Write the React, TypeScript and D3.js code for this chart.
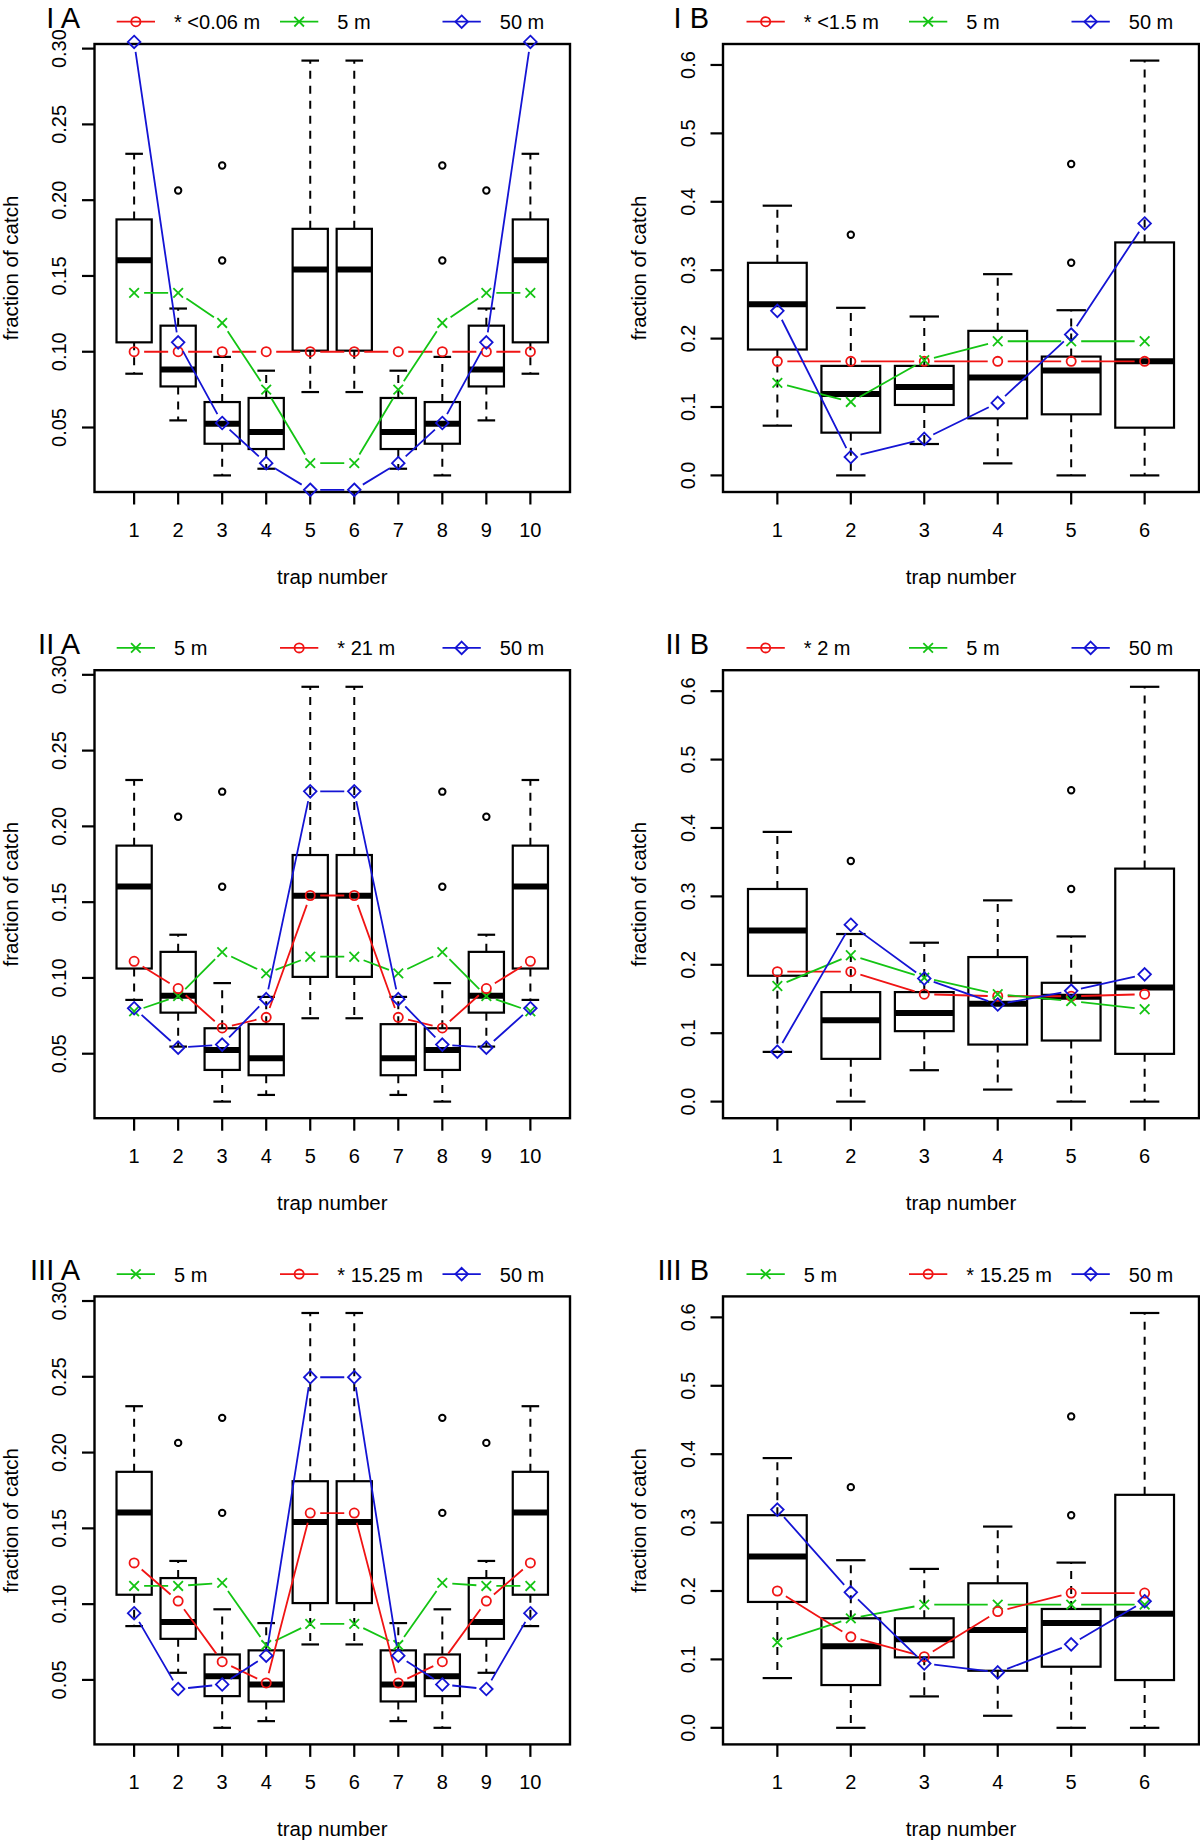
import * as d3 from "d3";

// trap numbers
const trapsA = [1, 2, 3, 4, 5, 6, 7, 8, 9, 10];
const trapsB = [1, 2, 3, 4, 5, 6];

// box stats: [lower whisker, q1, median, q3, upper whisker]
const boxA = [
  [0.0855, 0.1062, 0.1604, 0.1873, 0.2306],
  [0.0547, 0.0771, 0.0882, 0.1172, 0.1285],
  [0.0184, 0.0393, 0.0525, 0.0668, 0.0966],
  [0.0228, 0.0358, 0.047, 0.0695, 0.0875],
  [0.0734, 0.1007, 0.1542, 0.1811, 0.2921],
  [0.0734, 0.1007, 0.1542, 0.1811, 0.2921],
  [0.0228, 0.0358, 0.047, 0.0695, 0.0875],
  [0.0184, 0.0393, 0.0525, 0.0668, 0.0966],
  [0.0547, 0.0771, 0.0882, 0.1172, 0.1285],
  [0.0855, 0.1062, 0.1604, 0.1873, 0.2306],
];
const outliersA = [[], [0.2064], [0.2229, 0.1602], [], [], [], [], [0.2229, 0.1602], [0.2064], []];

const boxB = [
  [0.0727, 0.184, 0.2503, 0.3108, 0.3943],
  [0.0, 0.0625, 0.1191, 0.1601, 0.245],
  [0.0459, 0.103, 0.1294, 0.1601, 0.2323],
  [0.0176, 0.0834, 0.143, 0.2113, 0.2942],
  [0.0, 0.0893, 0.1532, 0.1737, 0.2415],
  [0.0, 0.0698, 0.1669, 0.3406, 0.6064],
];
const outliersB = [[], [0.3518], [], [], [0.4552, 0.3108], []];

const ticksA = [0.05, 0.1, 0.15, 0.2, 0.25, 0.3];
const ticksB = [0.0, 0.1, 0.2, 0.3, 0.4, 0.5, 0.6];

// series per panel
const iaRed = [0.1, 0.1, 0.1, 0.1, 0.1, 0.1, 0.1, 0.1, 0.1, 0.1];
const iaGreen = [0.1388, 0.1388, 0.119, 0.075, 0.0265, 0.0265, 0.075, 0.119, 0.1388, 0.1388];
const iaBlue = [0.3044, 0.1062, 0.053, 0.0265, 0.0089, 0.0089, 0.0265, 0.053, 0.1062, 0.3044];

const ibRed = [0.1667, 0.1667, 0.1667, 0.1667, 0.1667, 0.1667];
const ibGreen = [0.1352, 0.1074, 0.1683, 0.1961, 0.1961, 0.1961];
const ibBlue = [0.2406, 0.0269, 0.0533, 0.106, 0.2059, 0.3683];

const iiaGreen = [0.078, 0.088, 0.117, 0.103, 0.114, 0.114, 0.103, 0.117, 0.088, 0.078];
const iiaRed = [0.111, 0.093, 0.067, 0.074, 0.1544, 0.1544, 0.074, 0.067, 0.093, 0.111];
const iiaBlue = [0.08, 0.054, 0.056, 0.086, 0.2231, 0.2231, 0.086, 0.056, 0.054, 0.08];

const iibRed = [0.19, 0.19, 0.157, 0.154, 0.154, 0.157];
const iibGreen = [0.169, 0.214, 0.181, 0.157, 0.147, 0.135];
const iibBlue = [0.073, 0.2586, 0.18, 0.142, 0.162, 0.186];

const iiiaGreen = [0.112, 0.112, 0.114, 0.073, 0.087, 0.087, 0.073, 0.114, 0.112, 0.112];
const iiiaRed = [0.1272, 0.102, 0.062, 0.048, 0.1601, 0.1601, 0.048, 0.062, 0.102, 0.1272];
const iiiaBlue = [0.094, 0.044, 0.047, 0.066, 0.2497, 0.2497, 0.066, 0.047, 0.044, 0.094];

const iiibGreen = [0.125, 0.16, 0.18, 0.18, 0.18, 0.18];
const iiibRed = [0.2, 0.133, 0.104, 0.17, 0.197, 0.197];
const iiibBlue = [0.319, 0.198, 0.094, 0.081, 0.122, 0.185];

const RED = "#f01414";
const GREEN = "#14c414";
const BLUE = "#1414d4";
const FONT = "'Liberation Sans', Arial, Helvetica, sans-serif";

type Series = { label: string; color: string; shape: "circle" | "cross" | "diamond"; values: number[] };

const panels = [
  { title: "I A", row: 0, col: 0, series: [
    { label: "* <0.06 m", color: RED, shape: "circle", values: iaRed },
    { label: "5 m", color: GREEN, shape: "cross", values: iaGreen },
    { label: "50 m", color: BLUE, shape: "diamond", values: iaBlue },
  ] },
  { title: "I B", row: 0, col: 1, series: [
    { label: "* <1.5 m", color: RED, shape: "circle", values: ibRed },
    { label: "5 m", color: GREEN, shape: "cross", values: ibGreen },
    { label: "50 m", color: BLUE, shape: "diamond", values: ibBlue },
  ] },
  { title: "II A", row: 1, col: 0, series: [
    { label: "5 m", color: GREEN, shape: "cross", values: iiaGreen },
    { label: "* 21 m", color: RED, shape: "circle", values: iiaRed },
    { label: "50 m", color: BLUE, shape: "diamond", values: iiaBlue },
  ] },
  { title: "II B", row: 1, col: 1, series: [
    { label: "* 2 m", color: RED, shape: "circle", values: iibRed },
    { label: "5 m", color: GREEN, shape: "cross", values: iibGreen },
    { label: "50 m", color: BLUE, shape: "diamond", values: iibBlue },
  ] },
  { title: "III A", row: 2, col: 0, series: [
    { label: "5 m", color: GREEN, shape: "cross", values: iiiaGreen },
    { label: "* 15.25 m", color: RED, shape: "circle", values: iiiaRed },
    { label: "50 m", color: BLUE, shape: "diamond", values: iiiaBlue },
  ] },
  { title: "III B", row: 2, col: 1, series: [
    { label: "5 m", color: GREEN, shape: "cross", values: iiibGreen },
    { label: "* 15.25 m", color: RED, shape: "circle", values: iiibRed },
    { label: "50 m", color: BLUE, shape: "diamond", values: iiibBlue },
  ] },
] as { title: string; row: number; col: number; series: Series[] }[];

// layout of the two columns
const cols = [
  { x0: 94.5, x1: 570, titleX: 80, yLabX: 66, yTitleX: 17.5, legendX: [116.7, 280, 442.5] },
  { x0: 723, x1: 1199, titleX: 709, yLabX: 695, yTitleX: 646, legendX: [746.5, 909, 1071.5] },
];
const ROW_H = 626.2;
const TOP = 44;
const BOTTOM = 492;
const GAP = 10;

function Marker({ shape, x, y, color }: { shape: string; x: number; y: number; color: string }) {
  if (shape === "circle") return <circle cx={x} cy={y} r={4.6} fill="none" stroke={color} strokeWidth={1.8} />;
  if (shape === "cross") {
    const s = 4.8;
    return (
      <path d={`M${x - s},${y - s}L${x + s},${y + s}M${x - s},${y + s}L${x + s},${y - s}`} stroke={color} strokeWidth={1.8} />
    );
  }
  const s = 6.3;
  return <path d={`M${x},${y - s}L${x + s},${y}L${x},${y + s}L${x - s},${y}Z`} fill="none" stroke={color} strokeWidth={1.8} />;
}

function Panel({ p }: { p: { title: string; row: number; col: number; series: Series[] } }) {
  const c = cols[p.col];
  const isA = p.col === 0;
  const traps = isA ? trapsA : trapsB;
  const boxes = isA ? boxA : boxB;
  const outliers = isA ? outliersA : outliersB;
  const ticks = isA ? ticksA : ticksB;
  const dy = p.row * ROW_H;

  const lo = d3.min(boxes, (b) => b[0])!;
  const hi = Math.max(d3.max(boxes, (b) => b[4])!, d3.max(outliers.flat())!);
  const ext = (hi - lo) * 0.04;
  const y = d3.scaleLinear().domain([lo - ext, hi + ext]).range([BOTTOM, TOP]);
  const n = traps.length;
  const x = d3.scaleLinear().domain([0.5 - n * 0.04, n + 0.5 + n * 0.04]).range([c.x0, c.x1]);
  const bw = (x(1) - x(0)) * 0.8;
  const sw = bw * 0.5;
  const tickFmt = isA ? d3.format(".2f") : d3.format(".1f");

  return (
    <g transform={`translate(0,${dy})`} fontFamily={FONT}>
      <text x={c.titleX} y={27.5} fontSize={29} textAnchor="end">{p.title}</text>
      {p.series.map((s, i) => {
        const lx = c.legendX[i];
        return (
          <g key={"lg" + i}>
            <line x1={lx} x2={lx + 38.3} y1={21.7} y2={21.7} stroke={s.color} strokeWidth={1.8} />
            <Marker shape={s.shape} x={lx + 19.15} y={21.7} color={s.color} />
            <text x={lx + 57.3} y={29.3} fontSize={20}>{s.label}</text>
          </g>
        );
      })}
      {/* boxes */}
      {boxes.map((b, i) => {
        const cx = x(traps[i]);
        return (
          <g key={"bx" + i} stroke="#000" fill="none">
            <line x1={cx} x2={cx} y1={y(b[3])} y2={y(b[4])} strokeWidth={2} strokeDasharray="8 7" />
            <line x1={cx} x2={cx} y1={y(b[1])} y2={y(b[0])} strokeWidth={2} strokeDasharray="8 7" />
            <line x1={cx - sw / 2} x2={cx + sw / 2} y1={y(b[4])} y2={y(b[4])} strokeWidth={2.2} />
            <line x1={cx - sw / 2} x2={cx + sw / 2} y1={y(b[0])} y2={y(b[0])} strokeWidth={2.2} />
            <rect x={cx - bw / 2} y={y(b[3])} width={bw} height={y(b[1]) - y(b[3])} fill="#fff" strokeWidth={2.2} />
            <line x1={cx - bw / 2} x2={cx + bw / 2} y1={y(b[2])} y2={y(b[2])} strokeWidth={6} />
            {outliers[i].map((o, j) => (
              <circle key={j} cx={cx} cy={y(o)} r={3.2} strokeWidth={2} />
            ))}
          </g>
        );
      })}
      {/* frame */}
      <rect x={c.x0} y={TOP} width={c.x1 - c.x0} height={BOTTOM - TOP} fill="none" stroke="#000" strokeWidth={2.4} />
      {/* y axis */}
      {ticks.map((t) => (
        <g key={"yt" + t}>
          <line x1={c.x0} x2={c.x0 - 12.5} y1={y(t)} y2={y(t)} stroke="#000" strokeWidth={2.2} />
          <text transform={`translate(${c.yLabX},${y(t)}) rotate(-90)`} textAnchor="middle" fontSize={20}>
            {tickFmt(t)}
          </text>
        </g>
      ))}
      <text transform={`translate(${c.yTitleX},${(TOP + BOTTOM) / 2}) rotate(-90)`} textAnchor="middle" fontSize={20.5}>
        fraction of catch
      </text>
      {/* x axis */}
      {traps.map((t) => (
        <g key={"xt" + t}>
          <line x1={x(t)} x2={x(t)} y1={BOTTOM} y2={BOTTOM + 12.5} stroke="#000" strokeWidth={2.2} />
          <text x={x(t)} y={536.7} textAnchor="middle" fontSize={20}>{t}</text>
        </g>
      ))}
      <text x={(c.x0 + c.x1) / 2} y={584} textAnchor="middle" fontSize={20.5}>trap number</text>
      {/* series, drawn R type "b": lines with gaps around points */}
      {p.series.map((s, si) => {
        const pts = s.values.map((v, i) => [x(traps[i]), y(v)]);
        const segs = [] as string[];
        for (let i = 0; i < pts.length - 1; i++) {
          const [ax, ay] = pts[i];
          const [bx, by] = pts[i + 1];
          const d = Math.hypot(bx - ax, by - ay);
          if (d <= 2 * GAP) continue;
          const ux = (bx - ax) / d;
          const uy = (by - ay) / d;
          segs.push(`M${ax + ux * GAP},${ay + uy * GAP}L${bx - ux * GAP},${by - uy * GAP}`);
        }
        return (
          <g key={"s" + si}>
            <path d={segs.join("")} stroke={s.color} strokeWidth={1.8} fill="none" />
            {pts.map(([px, py], i) => (
              <Marker key={i} shape={s.shape} x={px} y={py} color={s.color} />
            ))}
          </g>
        );
      })}
    </g>
  );
}

export default function App() {
  return (
    <div style={{ position: "absolute", left: 0, top: 0 }}>
      <svg width={1200} height={1843} viewBox="0 0 1200 1843" style={{ display: "block", background: "#fff" }}>
        <rect width={1200} height={1843} fill="#fff" />
        {panels.map((p) => (
          <Panel key={p.title} p={p} />
        ))}
      </svg>
    </div>
  );
}
